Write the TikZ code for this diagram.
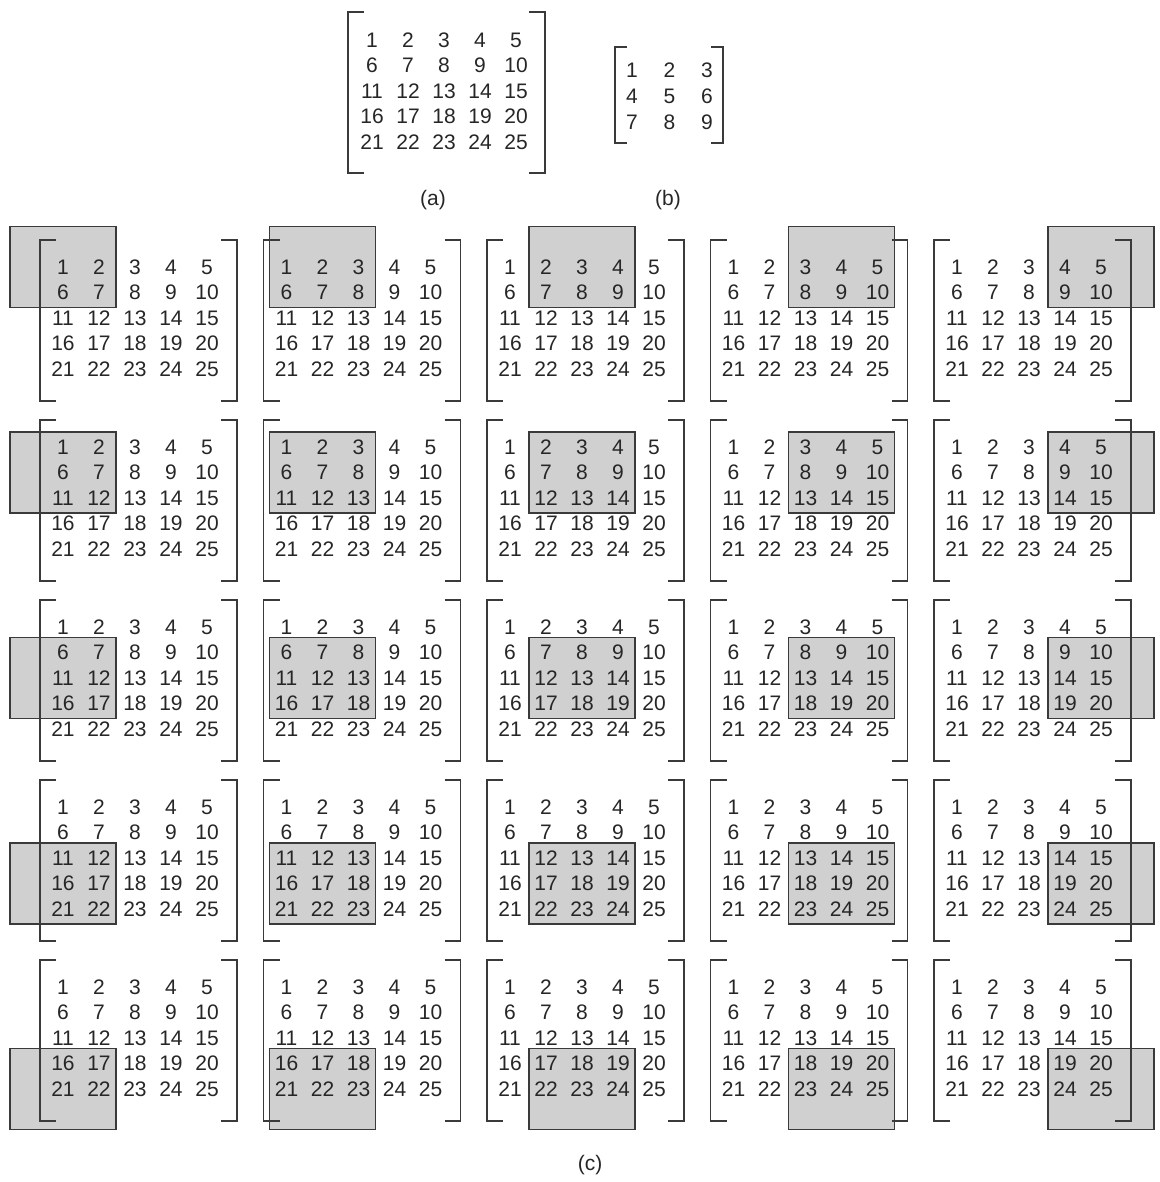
\documentclass[tikz,border=0pt]{standalone}
\usepackage{fontspec}
\setmainfont{Liberation Sans}
\usepackage{xcolor}
\usepackage{tikz}
\definecolor{windowgray}{HTML}{D0D0D0}
\definecolor{edgegray}{HTML}{3A3A3A}
\tikzset{
  entry/.style={inner sep=0pt, font=\fontsize{10.5}{12}\selectfont, text=black!85},
  caption/.style={inner sep=0pt, font=\fontsize{10.5}{12}\selectfont, text=black!85},
  bracket/.style={draw=edgegray, line width=0.9pt},
  window/.style={draw=edgegray, line width=0.9pt, fill=windowgray},
}
\begin{document}
\begin{tikzpicture}[x=0.5pt, y=-0.5pt]
  \useasboundingbox (0,0) rectangle (1160,1182);

  % (a) the 5x5 input
  \foreach \i in {1,...,5}
    \foreach \j in {1,...,5} {
      \pgfmathtruncatemacro{\v}{5*(\i-1)+\j}
      \node[entry] (a-\i-\j) at ({348+24+36*(\j-1)}, {12+28+25.5*(\i-1)}) {\v};
    }
  \draw[bracket] (364,12) -- (348,12) -- (348,173) -- (364,173);
  \draw[bracket] (529,12) -- (545,12) -- (545,173) -- (529,173);
  \node[caption] (a-cap) at (433,200) {(a)};

  % (b) the 3x3 kernel
  \foreach \i in {1,...,3}
    \foreach \j in {1,...,3} {
      \pgfmathtruncatemacro{\v}{3*(\i-1)+\j}
      \node[entry] (b-\i-\j) at ({632+37.5*(\j-1)}, {70+26*(\i-1)}) {\v};
    }
  \draw[bracket] (627,47) -- (615,47) -- (615,143) -- (627,143);
  \draw[bracket] (711,47) -- (723,47) -- (723,143) -- (711,143);
  \node[caption] (b-cap) at (668,200) {(b)};

  % (c) kernel window centred on each entry in turn
  \foreach \r in {1,...,5}
    \foreach \c in {1,...,5} {
      \begin{scope}[shift={({40+223.5*(\c-1)},{240+180*(\r-1)})}]
        \path[window] ({23+36*(\c-1)-53},{27+25.5*(\r-1)-40.5}) rectangle ++(106,81);
        \draw[bracket] (16,0) -- (0,0) -- (0,161) -- (16,161);
        \draw[bracket] (181,0) -- (197,0) -- (197,161) -- (181,161);
        \foreach \i in {1,...,5}
          \foreach \j in {1,...,5} {
            \pgfmathtruncatemacro{\v}{5*(\i-1)+\j}
            \node[entry] (m\r\c-\i-\j) at ({23+36*(\j-1)}, {27+25.5*(\i-1)}) {\v};
          }
      \end{scope}
    }
  \node[caption] (c-cap) at (590,1165) {(c)};
\end{tikzpicture}
\end{document}
